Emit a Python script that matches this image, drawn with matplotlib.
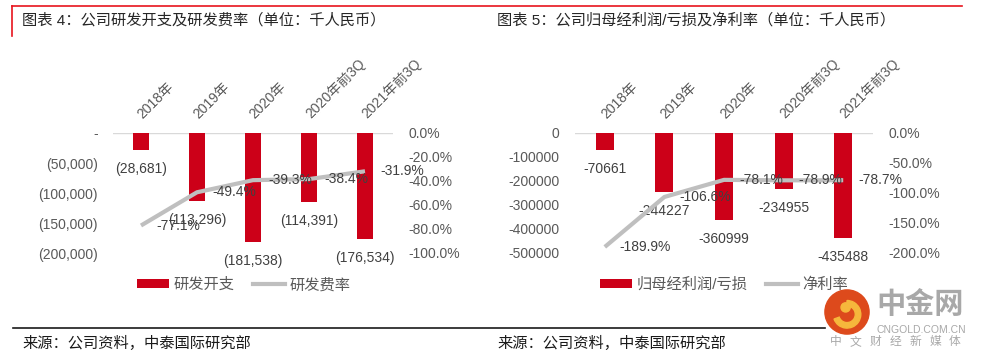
import numpy as np
import matplotlib
matplotlib.use('Agg')
import matplotlib.pyplot as plt
from matplotlib.ticker import FuncFormatter, FixedLocator
from matplotlib.patches import Patch, Circle, Wedge
from matplotlib.lines import Line2D

plt.rcParams['font.family'] = ['Liberation Sans', 'Noto Sans CJK SC']

# data
categories = ['2018年', '2019年', '2020年', '2020年前3Q', '2021年前3Q']
rd_spend = [-28681, -113296, -181538, -114391, -176534]
rd_ratio = [-0.771, -0.494, -0.393, -0.384, -0.319]
net_profit = [-70661, -244227, -360999, -234955, -435488]
net_margin = [-1.899, -1.066, -0.781, -0.789, -0.787]

W, H = 981, 361
RED = '#CC0018'
GRAY_LINE = '#BFBFBF'
TXT = '#404040'
TICK = '#595959'

fig = plt.figure(figsize=(W / 100, H / 100), dpi=100)


def px_axes(x0, y0, x1, y1):
    # pixel box (top-left origin) -> figure axes
    return fig.add_axes([x0 / W, (H - y1) / H, (x1 - x0) / W, (y1 - y0) / H])


def draw_panel(ax, bars, ratio, yticks, ylo, rlo, rticks, lfmt, bar_name, line_name, leg_x):
    x = np.arange(len(categories))
    ax.axhline(0, color='#D9D9D9', lw=1, zorder=1)
    ax.bar(x, bars, width=0.3, color=RED, zorder=2)
    ax.set_xlim(-0.5, 4.5)
    ax.set_ylim(ylo, 0)
    ax.yaxis.set_major_locator(FixedLocator(yticks))
    ax.yaxis.set_major_formatter(FuncFormatter(lfmt))
    ax.set_xticks([])
    ax.tick_params(axis='y', length=0, pad=11, labelsize=10, labelcolor=TICK)
    for s in ax.spines.values():
        s.set_visible(False)

    for xi, v in zip(x, bars):
        ax.annotate(lfmt(v, None), (xi, v), xytext=(0, -19), textcoords='offset pixels',
                    ha='center', va='center', fontsize=10, color=TXT, zorder=5)

    # category labels above the plot, rotated
    for xi, c in zip(x, categories):
        ax.text(xi - 0.02, 1.0 + 17 / 120, c, transform=ax.get_xaxis_transform(),
                rotation=45, rotation_mode='anchor', ha='left', va='center',
                fontsize=10, color=TICK)

    ax2 = ax.twinx()
    ax2.plot(x, ratio, color=GRAY_LINE, lw=3, solid_capstyle='butt', zorder=3)
    ax2.set_ylim(rlo, 0)
    ax2.yaxis.set_major_locator(FixedLocator(rticks))
    ax2.yaxis.set_major_formatter(FuncFormatter(lambda v, p: f'{v * 100:.1f}%'))
    ax2.tick_params(axis='y', length=0, pad=11, labelsize=10, labelcolor=TICK)
    for s in ax2.spines.values():
        s.set_visible(False)
    for xi, r in zip(x, ratio):
        ax2.annotate(f'{r * 100:.1f}%', (xi, r), xytext=(15, 0), textcoords='offset pixels',
                     ha='left', va='center', fontsize=10, color=TXT, zorder=5)

    handles = [Patch(facecolor=RED, edgecolor='none'),
               Line2D([], [], color=GRAY_LINE, lw=3)]
    fig.legend(handles, [bar_name, line_name], loc='center',
               bbox_to_anchor=(leg_x / W, (H - 285) / H), ncol=2, frameon=False,
               fontsize=11, handlelength=2.1, handleheight=0.55, handletextpad=0.3,
               columnspacing=1.2, labelcolor=TICK)
    return ax2


def fmt_paren(v, p):
    if v == 0:
        return '-'
    return f'({abs(v):,.0f})' if v < 0 else f'{v:,.0f}'


def fmt_plain(v, p):
    return f'{v:.0f}'


# left panel
axL = px_axes(113, 133, 393, 253)
draw_panel(axL, rd_spend, rd_ratio, [0, -50000, -100000, -150000, -200000], -200000,
           -1.0, [0, -0.2, -0.4, -0.6, -0.8, -1.0], fmt_paren, '研发开支', '研发费率', 244)

# right panel
axR = px_axes(575, 133, 873, 253)
draw_panel(axR, net_profit, net_margin, [0, -100000, -200000, -300000, -400000, -500000],
           -500000, -2.0, [0, -0.5, -1.0, -1.5, -2.0], fmt_plain, '归母经利润/亏损', '净利率', 724)

# frame lines and titles
fig.add_artist(Line2D([12 / W, 962 / W], [(H - 6) / H] * 2, color='#E8141E', lw=1.2))
fig.add_artist(Line2D([12 / W, 12 / W], [(H - 6) / H, (H - 36) / H], color='#E8141E', lw=1.2))
fig.add_artist(Line2D([13 / W, 825 / W], [(H - 328) / H] * 2, color='#1A1A1A', lw=1.2))

fig.text(22 / W, (H - 20) / H, '图表 4：公司研发开支及研发费率（单位：千人民币）',
         fontsize=11, color='#262626', va='center', ha='left')
fig.text(497 / W, (H - 20) / H, '图表 5：公司归母经利润/亏损及净利率（单位：千人民币）',
         fontsize=11, color='#262626', va='center', ha='left')
fig.text(22 / W, (H - 343) / H, '来源：公司资料，中泰国际研究部',
         fontsize=11, color='#1A1A1A', va='center', ha='left')
fig.text(497 / W, (H - 343) / H, '来源：公司资料，中泰国际研究部',
         fontsize=11, color='#1A1A1A', va='center', ha='left')

# watermark
axW = px_axes(824, 289, 870, 335)
axW.set_xlim(0, 1)
axW.set_ylim(0, 1)
axW.axis('off')
axW.add_patch(Circle((0.5, 0.5), 0.48, color='#DD4A1C'))
axW.add_patch(Wedge((0.5, 0.45), 0.3, 200, 90, width=0.12, color='#F6B73C'))
axW.add_patch(Circle((0.47, 0.6), 0.1, color='#F6B73C'))
fig.text(920 / W, (H - 305) / H, '中金网', fontsize=21, fontweight='bold',
         color='#A8A8A8', ha='center', va='center')
fig.text(921 / W, (H - 330) / H, 'CNGOLD.COM.CN', fontsize=7.5, color='#A8A8A8',
         ha='center', va='center')
for i, ch in enumerate('中文财经新媒体'):
    fig.text((836 + i * 19.8) / W, (H - 342) / H, ch, fontsize=8.5, color='#A8A8A8',
             ha='center', va='center')

fig.savefig('out.png', dpi=100)
